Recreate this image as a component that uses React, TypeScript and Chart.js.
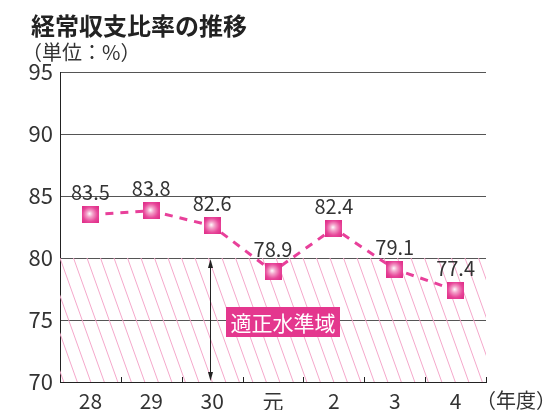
import React, { useEffect, useRef } from "react";
import { Chart, registerables } from "chart.js";

Chart.register(...registerables);

const titleText = "経常収支比率の推移";
const unitText = "（単位：%）";
const xAxisUnit = "（年度）";
const bandLabel = "適正水準域";

const categories = ["28", "29", "30", "元", "2", "3", "4"];
const ratioValues = [83.5, 83.8, 82.6, 78.9, 82.4, 79.1, 77.4];
const yMin = 70;
const yMax = 95;
const yStep = 5;
const bandLow = 70;
const bandHigh = 80;
const arrowCategoryIndex = 2;

const FONT = '"Noto Sans CJK JP", "Noto Sans", sans-serif';
const PINK = "#e8409a";
const TEXT = "#333333";

function makeMarker(): HTMLCanvasElement {
  const s = 17;
  const c = document.createElement("canvas");
  c.width = s;
  c.height = s;
  const ctx = c.getContext("2d")!;
  const g = ctx.createRadialGradient(s / 2 - 1, s / 2 - 1, 0, s / 2, s / 2, s * 0.62);
  g.addColorStop(0, "#ffffff");
  g.addColorStop(0.3, "#f4a2ca");
  g.addColorStop(0.7, "#e8479a");
  g.addColorStop(1, "#e0308a");
  ctx.fillStyle = g;
  ctx.fillRect(0, 0, s, s);
  return c;
}

const decorPlugin = {
  id: "decor",
  beforeDatasetsDraw(chart: any) {
    const { ctx, chartArea } = chart;
    const x = chart.scales.x;
    const y = chart.scales.y;
    const top = y.getPixelForValue(bandHigh);
    const bottom = y.getPixelForValue(bandLow);
    const left = chartArea.left;
    const right = chartArea.right;
    // hatch
    ctx.save();
    ctx.beginPath();
    ctx.rect(left, top, right - left, bottom - top);
    ctx.clip();
    ctx.strokeStyle = "#f5a8cb";
    ctx.lineWidth = 1;
    const h = bottom - top;
    const k = 2.8;
    const spacing = 13.5;
    for (let x0 = left - Math.ceil(h / k / spacing) * spacing; x0 < right + spacing; x0 += spacing) {
      ctx.beginPath();
      ctx.moveTo(x0, top);
      ctx.lineTo(x0 + h / k, bottom);
      ctx.stroke();
    }
    ctx.restore();

    // inner tick marks on x axis
    ctx.save();
    ctx.strokeStyle = "#222";
    ctx.lineWidth = 1;
    for (let i = 0; i < categories.length; i++) {
      const px =
        i < categories.length - 1
          ? (x.getPixelForValue(i) + x.getPixelForValue(i + 1)) / 2
          : right;
      const rx = Math.round(px) + 0.5;
      ctx.beginPath();
      ctx.moveTo(rx, chartArea.bottom);
      ctx.lineTo(rx, chartArea.bottom - 5);
      ctx.stroke();
    }
    ctx.restore();

    // arrow
    const ax = Math.round(x.getPixelForValue(arrowCategoryIndex)) - 1.5;
    ctx.save();
    ctx.strokeStyle = "#222";
    ctx.fillStyle = "#222";
    ctx.lineWidth = 1;
    ctx.beginPath();
    ctx.moveTo(ax, top + 4);
    ctx.lineTo(ax, bottom - 4);
    ctx.stroke();
    const head = (ty: number, dir: number) => {
      ctx.beginPath();
      ctx.moveTo(ax, ty);
      ctx.lineTo(ax - 2.5, ty + dir * 9);
      ctx.lineTo(ax + 2.5, ty + dir * 9);
      ctx.closePath();
      ctx.fill();
    };
    head(top + 1, 1);
    head(bottom - 1, -1);
    ctx.restore();

    // band label
    ctx.save();
    const cx = (x.getPixelForValue(2) + x.getPixelForValue(4)) / 2 + 10;
    const cy = y.getPixelForValue(75) + 2;
    const bw = 114;
    const bh = 30;
    ctx.fillStyle = "#e4378e";
    ctx.fillRect(cx - bw / 2, cy - bh / 2, bw, bh);
    ctx.fillStyle = "#ffffff";
    ctx.font = `21px ${FONT}`;
    ctx.textAlign = "center";
    ctx.textBaseline = "middle";
    ctx.fillText(bandLabel, cx, cy + 1);
    ctx.restore();
  },
  afterDatasetsDraw(chart: any) {
    const { ctx } = chart;
    const meta = chart.getDatasetMeta(0);
    ctx.save();
    ctx.fillStyle = TEXT;
    ctx.font = `20px ${FONT}`;
    ctx.textAlign = "center";
    ctx.textBaseline = "middle";
    meta.data.forEach((pt: any, i: number) => {
      ctx.fillText(ratioValues[i].toFixed(1), pt.x, pt.y - 22);
    });
    ctx.restore();
  },
  afterDraw(chart: any) {
    const { ctx } = chart;
    ctx.save();
    ctx.fillStyle = "#222";
    ctx.textBaseline = "middle";
    ctx.textAlign = "left";
    ctx.font = `bold 24px ${FONT}`;
    ctx.fillText(titleText, 31, 26);
    ctx.fillStyle = TEXT;
    ctx.font = `20px ${FONT}`;
    ctx.fillText(unitText, 22, 52);
    ctx.fillText(xAxisUnit, 476, 400);
    ctx.restore();
  },
};

export default function App() {
  const ref = useRef<HTMLCanvasElement | null>(null);
  useEffect(() => {
    if (!ref.current) return;
    const marker = makeMarker();
    const chart = new Chart(ref.current, {
      type: "line",
      data: {
        labels: categories,
        datasets: [
          {
            data: ratioValues,
            borderColor: PINK,
            borderWidth: 3,
            borderDash: [8, 7],
            pointStyle: marker as any,
            pointRadius: 8,
            tension: 0,
            fill: false,
          },
        ],
      },
      options: {
        responsive: false,
        animation: false,
        layout: { padding: { top: 72, right: 59, bottom: 0, left: 0 } },
        plugins: { legend: { display: false }, tooltip: { enabled: false }, title: { display: false } },
        scales: {
          x: {
            type: "category",
            offset: true,
            afterFit: (s: any) => {
              s.height = 28;
            },
            grid: { display: false, drawTicks: false },
            border: { display: true, color: "#222", width: 1 },
            ticks: { color: TEXT, font: { family: FONT, size: 21 }, padding: 6, maxRotation: 0 },
          },
          y: {
            min: yMin,
            max: yMax,
            afterFit: (s: any) => {
              s.width = 60;
            },
            ticks: { stepSize: yStep, color: TEXT, font: { family: FONT, size: 22 }, padding: 7 },
            grid: { color: "#555", lineWidth: 1, drawTicks: false },
            border: { display: true, color: "#222", width: 1 },
          },
        },
      },
      plugins: [decorPlugin],
    });
    return () => chart.destroy();
  }, []);
  return (
    <div style={{ position: "fixed", left: 0, top: 0, width: 545, height: 410, background: "#fff" }}>
      <canvas ref={ref} width={545} height={410} style={{ width: 545, height: 410 }} />
    </div>
  );
}
